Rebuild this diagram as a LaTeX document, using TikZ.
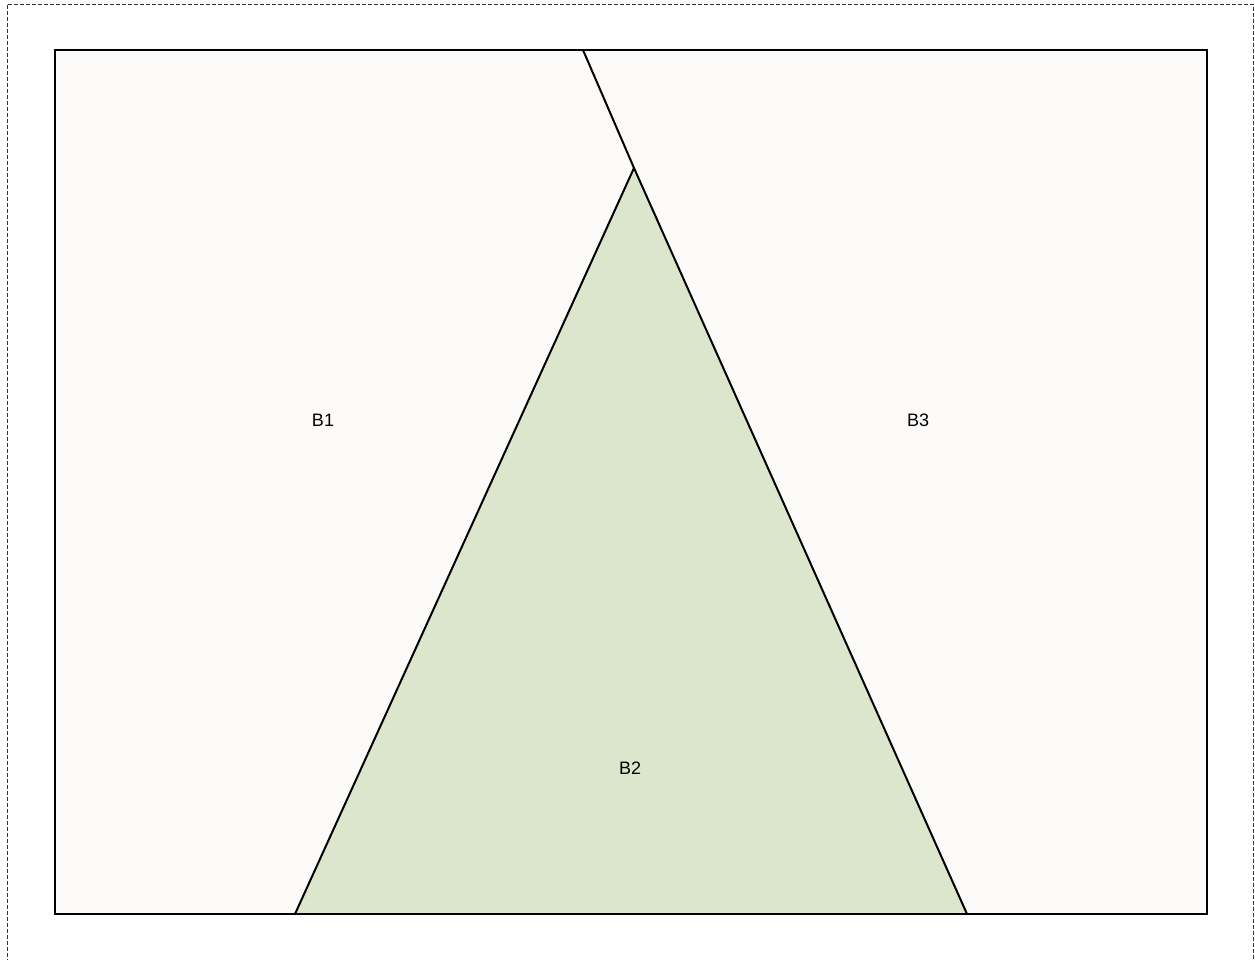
\documentclass[tikz,border=0pt]{standalone}
\usepackage{fontspec}
\setmainfont{Liberation Sans}
\definecolor{bgfill}{HTML}{FCFBFA}
\definecolor{trifill}{HTML}{DCE6CD}
\tikzset{
  lbl/.style={font=\fontsize{18}{20}\selectfont, text=black, inner sep=0pt},
  region/.style={draw=black, line width=2pt, line join=miter},
  frame/.style={draw=black!80, line width=1pt, dash pattern=on 4pt off 2pt}
}
\begin{document}
\begin{tikzpicture}[x=1pt,y=-1pt]
\useasboundingbox (0,0) rectangle (1255,959);
\draw[frame] (7.5,4.5) -- (1253.5,4.5) -- (1253.5,962) ;
\draw[frame] (7.5,4.5) -- (7.5,962);
% outer rectangle
\coordinate (tl) at (55,50);
\coordinate (tr) at (1207,50);
\coordinate (br) at (1207,914);
\coordinate (bl) at (55,914);
\coordinate (top) at (583,50);
\coordinate (apex) at (634,168);
\coordinate (bL) at (295,914);
\coordinate (bR) at (967,914);
\fill[bgfill] (tl) rectangle (br);
\fill[trifill] (apex) -- (bR) -- (bL) -- cycle;
\draw[region] (tl) rectangle (br);
\draw[region] (top) -- (apex) -- (bR);
\draw[region] (apex) -- (bL);
\node[lbl] (b1) at (323,420) {B1};
\node[lbl] (b3) at (918,420) {B3};
\node[lbl] (b2) at (630,768) {B2};
\end{tikzpicture}
\end{document}
